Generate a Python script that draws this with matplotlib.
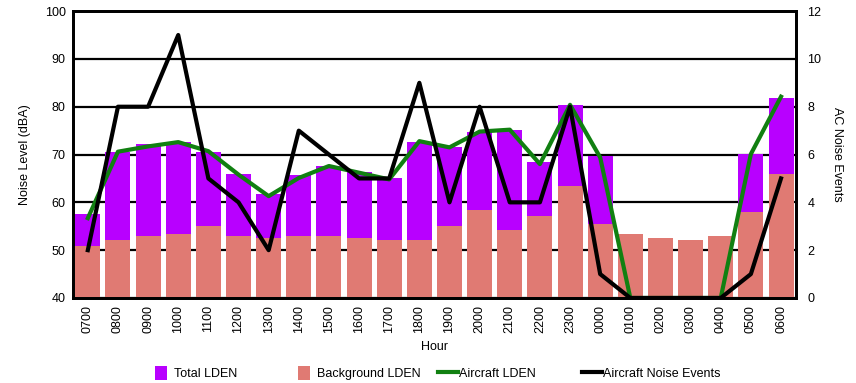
import numpy as np
import matplotlib
matplotlib.use("Agg")
import matplotlib.pyplot as plt

plt.rcParams['font.family'] = ['Liberation Sans', 'DejaVu Sans']
plt.rcParams['font.size'] = 9

# values
hours = ['0700', '0800', '0900', '1000', '1100', '1200', '1300', '1400', '1500', '1600',
         '1700', '1800', '1900', '2000', '2100', '2200', '2300', '0000', '0100', '0200',
         '0300', '0400', '0500', '0600']
total_lden = [57.5, 70.6, 72.2, 72.7, 70.6, 65.9, 61.7, 65.7, 67.6, 66.4,
              65.1, 72.7, 71.5, 74.8, 75.2, 68.5, 80.3, 69.7, 53.4, 52.5,
              52.1, 52.9, 70.1, 81.9]
background_lden = [50.8, 52.1, 52.9, 53.4, 55.0, 52.9, 52.5, 52.9, 52.9, 52.5,
                   52.1, 52.1, 55.0, 58.4, 54.2, 57.1, 63.4, 55.5, 53.4, 52.5,
                   52.1, 52.9, 58.0, 66.0]
aircraft_lden = [56.7, 70.6, 71.7, 72.6, 70.7, 65.8, 61.3, 65.1, 67.6, 66.2,
                 64.8, 72.8, 71.5, 74.8, 75.2, 68.0, 80.4, 69.4, 40.0, 40.0,
                 40.0, 40.0, 70.1, 82.1]
noise_events = [2, 8, 8, 11, 5, 4, 2, 7, 6, 5,
                5, 9, 4, 8, 4, 4, 8, 1, 0, 0,
                0, 0, 1, 5]

x = np.arange(len(hours))

fig = plt.figure(figsize=(8.56, 3.83), dpi=100)
ax = fig.add_axes([0.085, 0.222, 0.845, 0.749])

ax.set_axisbelow(True)
ax.yaxis.grid(True, color='black', linewidth=1.6)
b1 = ax.bar(x, total_lden, width=0.83, color='#B800FF', label='Total LDEN')
b2 = ax.bar(x, background_lden, width=0.83, color='#E07A73', label='Background LDEN')
l1, = ax.plot(x, aircraft_lden, color='#118011', linewidth=3, label='Aircraft LDEN')

ax.set_ylim(40, 100)
ax.set_xlim(-0.5, len(hours) - 0.5)
ax.set_yticks(range(40, 101, 10))
ax.set_xticks(x)
ax.set_xticklabels(hours, rotation=90)
ax.tick_params(length=0, pad=5)
ax.set_ylabel('Noise Level (dBA)', labelpad=10)
ax.set_xlabel('Hour', labelpad=6)

ax2 = ax.twinx()
l2, = ax2.plot(x, noise_events, color='black', linewidth=3, label='Aircraft Noise Events')
ax2.set_ylim(0, 12)
ax2.set_yticks(range(0, 13, 2))
ax2.tick_params(length=0, pad=8)
ax2.set_ylabel('AC Noise Events', rotation=270, labelpad=16)

for a in (ax, ax2):
    for s in a.spines.values():
        s.set_linewidth(2)
        s.set_color('black')

# legend entries sit in fixed-width slots, like the original
legend_items = [(b1, 'Total LDEN', 155, True),
                (b2, 'Background LDEN', 298, True),
                (l1, 'Aircraft LDEN', 438, False),
                (l2, 'Aircraft Noise Events', 582, False)]
for handle, text, xpos, is_patch in legend_items:
    fig.legend([handle], [text], loc='center left',
               bbox_to_anchor=(xpos / 856, 0.026), frameon=False,
               borderpad=0, borderaxespad=0,
               handlelength=0.95 if is_patch else 1.6,
               handleheight=1.3,
               handletextpad=0.6 if is_patch else 0.1)

fig.savefig('out.png', dpi=100)
